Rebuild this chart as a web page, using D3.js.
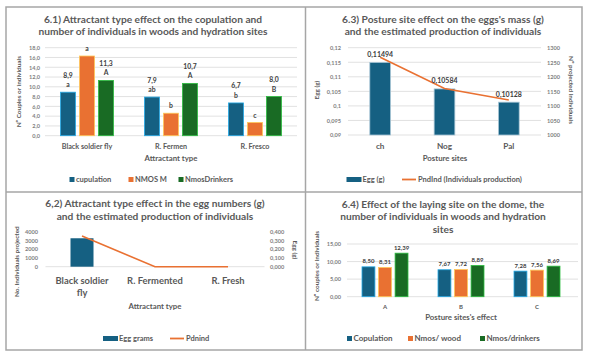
<!DOCTYPE html>
<html>
<head>
<meta charset="utf-8">
<script src="https://cdn.jsdelivr.net/npm/d3@7"></script>
<style>
body { margin: 0; background: #fff; }
svg { display: block; }
</style>
</head>
<body>
<svg id="canvas"></svg>
<script>
// 6.1 data
let cats61 = ['Black soldier fly', 'R. Fermen', 'R. Fresco']
let copulation61 = [8.9, 7.9, 6.7]
let nmosM61 = [16.3, 4.6, 2.7]
let nmosDrinkers61 = [11.3, 10.7, 8.0]
let lettersCop61 = ['a', 'ab', 'b']
let lettersM61 = ['a', 'b', 'c']
let lettersDrink61 = ['A', 'A', 'B']
let ticks61 = [0, 2, 4, 6, 8, 10, 12, 14, 16, 18]

// 6.3 data
let sites63 = ['ch', 'Nog', 'Pal']
let egg63 = [0.11494, 0.10584, 0.10128]
let pndInd63 = [1267, 1160, 1120]
let ticks63Left = [0.09, 0.095, 0.1, 0.105, 0.11, 0.115, 0.12]
let ticks63Right = [1000, 1050, 1100, 1150, 1200, 1250, 1300]

// 6.2 data
let cats62 = ['Black soldier fly', 'R. Fermented', 'R. Fresh']
let eggGrams62 = [0.325, 0, 0]
let pdnind62 = [3500, 0, 0]
let ticks62Left = [0, 1000, 2000, 3000, 4000]
let ticks62Right = [0, 0.1, 0.2, 0.3, 0.4]

// 6.4 data
let sites64 = ['A', 'B', 'C']
let copulation64 = [8.50, 7.67, 7.28]
let nmosWood64 = [8.31, 7.72, 7.56]
let nmosDrinkers64 = [12.39, 8.89, 8.69]
let ticks64 = [0, 5, 10, 15]

let width = 589
let height = 356
let font = "Lato, 'Liberation Sans', sans-serif"
let textColor = '#595959'
let labelColor = '#404040'
let blue = '#156082'
let orange = '#E97132'
let green = '#196B24'
let gridColor = '#d9d9d9'
let loc = d3.formatLocale({decimal: ',', thousands: '.', grouping: [3], currency: ['', '']})

let canvas = d3.select('#canvas')
    .attr('width', width)
    .attr('height', height)
    .style('font-family', font)

// frame of the four panels
let frame = canvas.append('g')
    .attr('stroke', '#a6a6a6')
    .attr('stroke-width', 1.5)
    .attr('fill', 'none')
frame.append('rect').attr('x', 6).attr('y', 7).attr('width', 576).attr('height', 343)
frame.append('line').attr('x1', 305.5).attr('x2', 305.5).attr('y1', 7).attr('y2', 350)
frame.append('line').attr('x1', 6).attr('x2', 582).attr('y1', 192).attr('y2', 192)

let addText = (x, y, txt, size, opts = {}) => {
    let t = canvas.append('text')
        .attr('x', x)
        .attr('y', y)
        .attr('font-size', size)
        .attr('font-weight', opts.weight || 'bold')
        .attr('fill', opts.color || textColor)
        .attr('text-anchor', opts.anchor || 'middle')
        .text(txt)
    if (opts.rotate) {
        t.attr('transform', 'rotate(' + opts.rotate + ',' + x + ',' + y + ')')
    }
    return t
}

let drawTitle = (lines, cx, y0) => {
    lines.forEach((line, i) => addText(cx, y0 + i * 12.7, line, 10.2))
}

let drawGrid = (scale, ticks, x0, x1) => {
    canvas.append('g')
        .selectAll('line')
        .data(ticks)
        .enter()
        .append('line')
        .attr('x1', x0)
        .attr('x2', x1)
        .attr('y1', (d) => scale(d))
        .attr('y2', (d) => scale(d))
        .attr('stroke', gridColor)
        .attr('stroke-width', 0.8)
}

let drawYAxis = (scale, ticks, fmt, x, side) => {
    let axis = side === 'right' ? d3.axisRight(scale) : d3.axisLeft(scale)
    axis.tickValues(ticks).tickFormat(fmt).tickSize(0).tickPadding(4)
    let g = canvas.append('g')
        .attr('transform', 'translate(' + x + ',0)')
        .call(axis)
    g.select('.domain').remove()
    g.attr('font-family', font)
        .attr('font-size', 5.6)
        .attr('font-weight', 'bold')
    g.selectAll('text').attr('fill', '#7f7f7f')
}

let drawLegend = (items, y) => {
    items.forEach((it) => {
        if (it.kind === 'square') {
            canvas.append('rect').attr('x', it.x).attr('y', y - 5).attr('width', 5).attr('height', 5).attr('fill', it.color)
        } else if (it.kind === 'wide') {
            canvas.append('rect').attr('x', it.x).attr('y', y - 5).attr('width', 15).attr('height', 5).attr('fill', it.color)
        } else {
            canvas.append('line').attr('x1', it.x).attr('x2', it.x + 14).attr('y1', y - 2.5).attr('y2', y - 2.5)
                .attr('stroke', it.color).attr('stroke-width', 1.8)
        }
        addText(it.x + (it.kind === 'square' ? 6.5 : 16), y, it.label, it.size || 7.5, {anchor: 'start'})
    })
}

// ---------- 6.1 ----------
let drawPanel61 = () => {
    drawTitle(['6.1) Attractant type effect on the copulation and',
        'number of individuals in woods and hydration sites'], 153, 22.5)
    let yScale = d3.scaleLinear().domain([0, 18]).range([135.7, 47.7])
    let xScale = d3.scaleBand().domain(cats61).range([45, 297])
    let series = [
        {key: 'cop', values: copulation61, letters: lettersCop61, color: blue, showValue: true},
        {key: 'm', values: nmosM61, letters: lettersM61, color: orange, showValue: false},
        {key: 'dr', values: nmosDrinkers61, letters: lettersDrink61, color: green, showValue: true}
    ]
    let inner = d3.scaleBand().domain(series.map((s) => s.key)).range([-26.5, 26.5]).paddingInner(0.21)
    drawGrid(yScale, ticks61, 45, 297)
    drawYAxis(yScale, ticks61, loc.format('.1f'), 44, 'left')
    series.forEach((s) => {
        canvas.append('g')
            .selectAll('rect')
            .data(s.values)
            .enter()
            .append('rect')
            .attr('x', (d, i) => xScale(cats61[i]) + xScale.bandwidth() / 2 + inner(s.key))
            .attr('y', (d) => yScale(d))
            .attr('width', inner.bandwidth())
            .attr('height', (d) => yScale(0) - yScale(d))
            .attr('fill', s.color)
            .attr('stroke', d3.color(s.color).brighter(1.6))
            .attr('stroke-width', 0.8)
        s.values.forEach((v, i) => {
            let cx = xScale(cats61[i]) + xScale.bandwidth() / 2 + inner(s.key) + inner.bandwidth() / 2
            addText(cx, yScale(v) - 5, s.letters[i], 6.8, {color: labelColor})
            if (s.showValue) {
                addText(cx, yScale(v) - 14.5, loc.format('.1f')(v), 6.8, {color: labelColor})
            }
        })
    })
    cats61.forEach((c) => addText(xScale(c) + xScale.bandwidth() / 2, 148.5, c, 7.2))
    addText(171, 160.8, 'Attractant type', 7.8)
    addText(21, 91.7, 'Nº Couples or individuals', 6.4, {rotate: -90})
    drawLegend([
        {kind: 'square', x: 69.5, color: blue, label: 'cupulation'},
        {kind: 'square', x: 128.5, color: orange, label: 'NMOS M'},
        {kind: 'square', x: 178.5, color: green, label: 'NmosDrinkers'}
    ], 182)
}

// ---------- 6.3 ----------
let drawPanel63 = () => {
    drawTitle(['6.3) Posture site effect on the eggs\'s mass (g)',
        'and the estimated production of individuals'], 443, 22.5)
    let yLeft = d3.scaleLinear().domain([0.09, 0.12]).range([135, 47.7])
    let yRight = d3.scaleLinear().domain([1000, 1300]).range([135, 47.7])
    let xScale = d3.scaleBand().domain(sites63).range([348, 541])
    drawGrid(yLeft, ticks63Left, 348, 541)
    drawYAxis(yLeft, ticks63Left, (d) => String(+d.toFixed(3)).replace('.', ','), 345, 'left')
    drawYAxis(yRight, ticks63Right, (d) => String(d), 543, 'right')
    let bw = 20.7
    canvas.append('g')
        .selectAll('rect')
        .data(egg63)
        .enter()
        .append('rect')
        .attr('x', (d, i) => xScale(sites63[i]) + xScale.bandwidth() / 2 - bw / 2)
        .attr('y', (d) => yLeft(d))
        .attr('width', bw)
        .attr('height', (d) => yLeft(0.09) - yLeft(d))
        .attr('fill', blue)
        .attr('stroke', '#a9c6d6')
        .attr('stroke-width', 0.8)
    let line = d3.line()
        .x((d, i) => xScale(sites63[i]) + xScale.bandwidth() / 2)
        .y((d) => yRight(d))
    canvas.append('path')
        .datum(pndInd63)
        .attr('d', line)
        .attr('fill', 'none')
        .attr('stroke', orange)
        .attr('stroke-width', 1.6)
    egg63.forEach((v, i) => {
        addText(xScale(sites63[i]) + xScale.bandwidth() / 2, yLeft(v) - 5.5, String(v).replace('.', ','), 7, {color: labelColor})
    })
    sites63.forEach((c) => addText(xScale(c) + xScale.bandwidth() / 2, 149, c, 8.2))
    addText(445, 160.8, 'Posture sites', 7.8)
    addText(319, 90, 'Egg (g)', 6.4, {rotate: -90})
    addText(569, 90, 'Nº projected individuals', 6.4, {rotate: 90})
    drawLegend([
        {kind: 'wide', x: 346.5, color: blue, label: 'Egg (g)'},
        {kind: 'line', x: 402, color: orange, label: 'PndInd (Individuals production)'}
    ], 182)
}

// ---------- 6.2 ----------
let drawPanel62 = () => {
    drawTitle(['6,2) Attractant type effect in the egg numbers (g)',
        'and the estimated production of individuals'], 155, 207)
    let yLeft = d3.scaleLinear().domain([0, 4000]).range([266.7, 231.7])
    let yRight = d3.scaleLinear().domain([0, 0.4]).range([266.7, 231.7])
    let xScale = d3.scaleBand().domain(cats62).range([45.5, 264.5])
    drawYAxis(yLeft, ticks62Left, (d) => String(d), 42, 'left')
    drawYAxis(yRight, ticks62Right, loc.format('.3f'), 266, 'right')
    canvas.append('line')
        .attr('x1', 45.5).attr('x2', 264.5)
        .attr('y1', yLeft(0)).attr('y2', yLeft(0))
        .attr('stroke', gridColor).attr('stroke-width', 0.8)
    let bw = 23
    canvas.append('g')
        .selectAll('rect')
        .data(eggGrams62)
        .enter()
        .append('rect')
        .attr('x', (d, i) => xScale(cats62[i]) + xScale.bandwidth() / 2 - bw / 2)
        .attr('y', (d) => yRight(d))
        .attr('width', bw)
        .attr('height', (d) => yRight(0) - yRight(d))
        .attr('fill', blue)
    let line = d3.line()
        .x((d, i) => xScale(cats62[i]) + xScale.bandwidth() / 2)
        .y((d) => yLeft(d))
    canvas.append('path')
        .datum(pdnind62)
        .attr('d', line)
        .attr('fill', 'none')
        .attr('stroke', orange)
        .attr('stroke-width', 1.6)
    // category labels, wrapped when wider than the band
    cats62.forEach((c) => {
        let cx = xScale(c) + xScale.bandwidth() / 2
        let words = c.split(' ')
        let lines = c.length > 14 ? [words.slice(0, -1).join(' '), words[words.length - 1]] : [c]
        lines.forEach((l, j) => addText(cx, 283.5 + j * 12.3, l, 9.4))
    })
    addText(155, 308.6, 'Attractant type', 7.8)
    addText(19, 261.7, 'No. Individuals projected', 6.4, {rotate: -90})
    addText(293, 250, 'Egg (g)', 6.4, {rotate: 90})
    drawLegend([
        {kind: 'wide', x: 103, color: blue, label: 'Egg grams'},
        {kind: 'line', x: 170, color: orange, label: 'Pdnind'}
    ], 341)
}

// ---------- 6.4 ----------
let drawPanel64 = () => {
    drawTitle(['6.4) Effect of the laying site on the dome, the',
        'number of individuals in woods and hydration',
        'sites'], 443, 207.5)
    let yScale = d3.scaleLinear().domain([0, 15]).range([296.7, 244])
    let xScale = d3.scaleBand().domain(sites64).range([347, 575])
    let series = [
        {key: 'cop', values: copulation64, color: blue},
        {key: 'wood', values: nmosWood64, color: orange},
        {key: 'dr', values: nmosDrinkers64, color: green}
    ]
    let inner = d3.scaleBand().domain(series.map((s) => s.key)).range([-23, 23]).paddingInner(0.22)
    drawGrid(yScale, ticks64, 347, 578)
    drawYAxis(yScale, ticks64, loc.format('.2f'), 345, 'left')
    series.forEach((s) => {
        canvas.append('g')
            .selectAll('rect')
            .data(s.values)
            .enter()
            .append('rect')
            .attr('x', (d, i) => xScale(sites64[i]) + xScale.bandwidth() / 2 + inner(s.key))
            .attr('y', (d) => yScale(d))
            .attr('width', inner.bandwidth())
            .attr('height', (d) => yScale(0) - yScale(d))
            .attr('fill', s.color)
            .attr('stroke', d3.color(s.color).brighter(1.6))
            .attr('stroke-width', 0.8)
        s.values.forEach((v, i) => {
            let cx = xScale(sites64[i]) + xScale.bandwidth() / 2 + inner(s.key) + inner.bandwidth() / 2
            addText(cx, yScale(v) - 3.5, loc.format('.2f')(v), 6, {color: labelColor})
        })
    })
    sites64.forEach((c) => addText(xScale(c) + xScale.bandwidth() / 2, 308.5, c, 6))
    addText(461, 320, 'Posture sites\'s effect', 7.8)
    addText(319, 266, 'Nº couples or individuals', 6.4, {rotate: -90})
    drawLegend([
        {kind: 'square', x: 347, color: blue, label: 'Copulation', size: 8},
        {kind: 'square', x: 408, color: orange, label: 'Nmos/ wood', size: 8},
        {kind: 'square', x: 480, color: green, label: 'Nmos/drinkers', size: 8}
    ], 341)
}

drawPanel61()
drawPanel63()
drawPanel62()
drawPanel64()
</script>
</body>
</html>
